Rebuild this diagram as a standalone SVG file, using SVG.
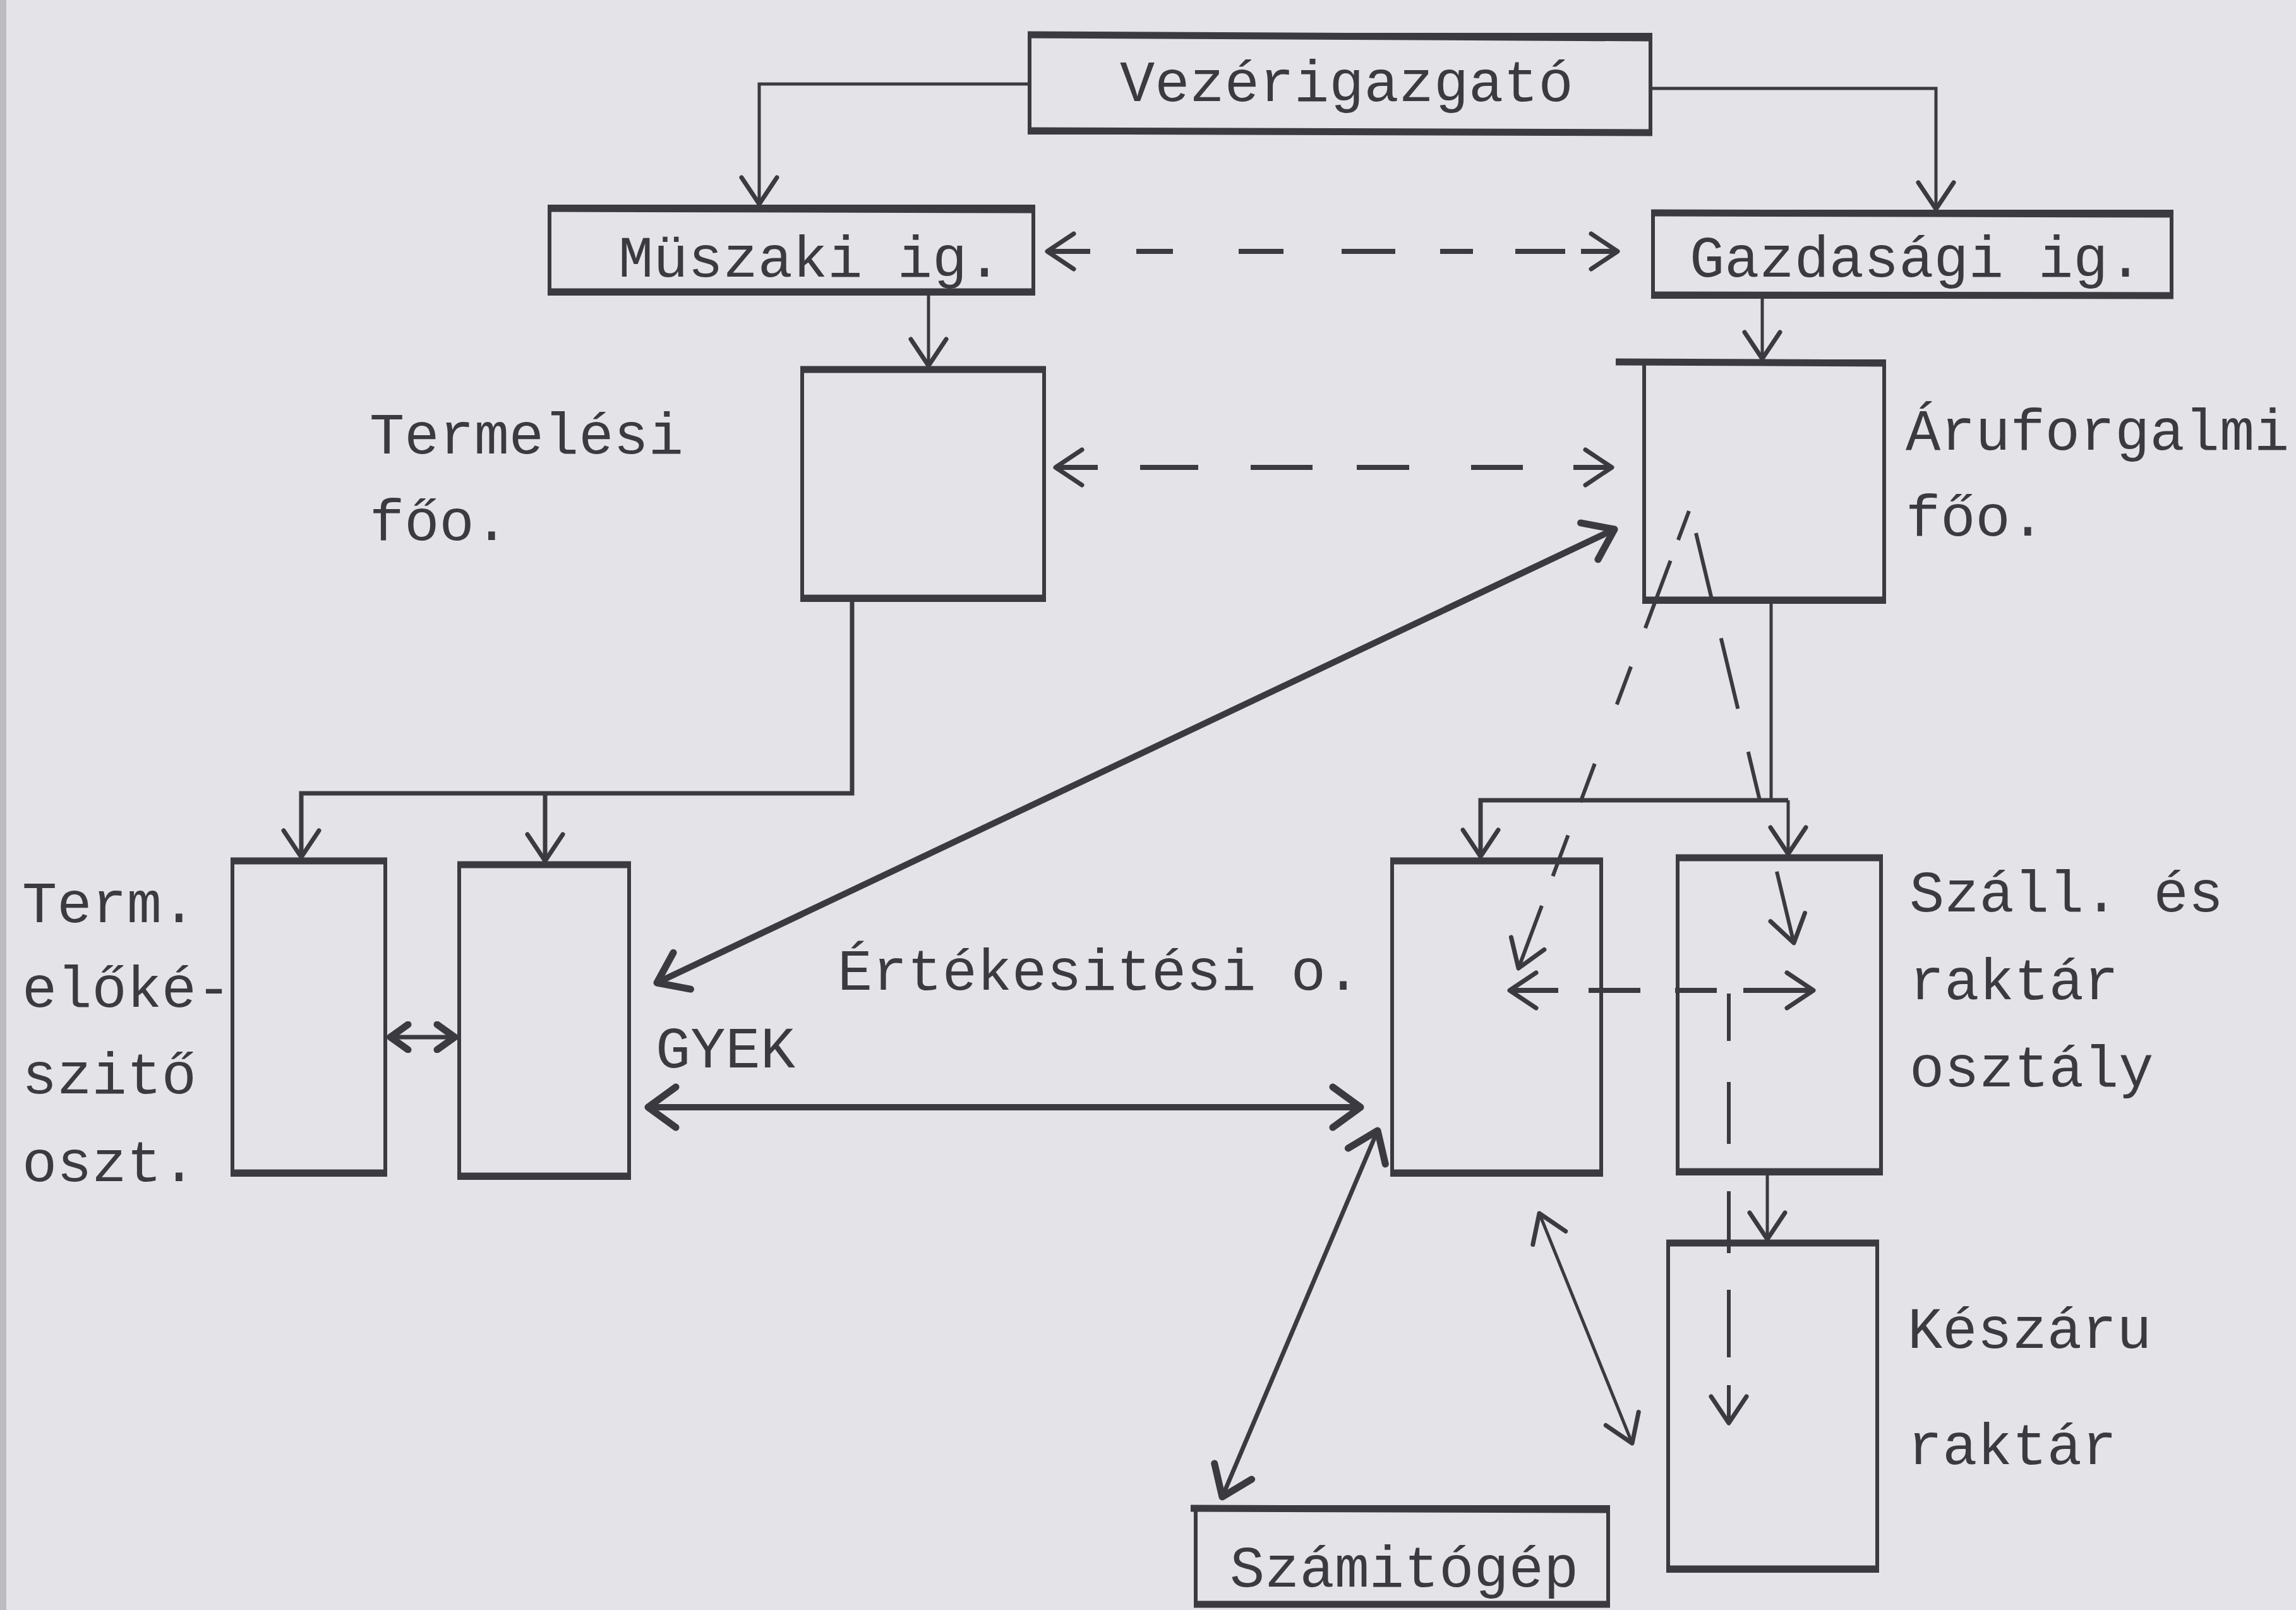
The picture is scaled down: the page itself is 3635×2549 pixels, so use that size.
<svg xmlns="http://www.w3.org/2000/svg" width="3635" height="2549" viewBox="0 0 3635 2549">
<style>
.bx{fill:none;stroke:#3b3a40;stroke-width:6}
.he{stroke:#3b3a40;stroke-width:11;stroke-linecap:butt}
.t{font-family:"Liberation Mono","DejaVu Sans Mono",monospace;font-size:92px;fill:#3b3a40}
.c{fill:none;stroke:#3b3a40;stroke-width:5}
.cb{fill:none;stroke:#3b3a40;stroke-width:10}
.cm{fill:none;stroke:#3b3a40;stroke-width:7}
.d{fill:none;stroke:#3b3a40;stroke-width:8}
.dd{fill:none;stroke:#3b3a40;stroke-width:6}
.mk{fill:none;stroke:#3b3a40;stroke-width:7;stroke-linecap:round;stroke-linejoin:round;stroke-dasharray:none}
.mkb{fill:none;stroke:#3b3a40;stroke-width:11;stroke-linecap:round;stroke-linejoin:round;stroke-dasharray:none}
</style>
<defs>
<marker id="a" viewBox="0 0 50 64" refX="46" refY="32" markerWidth="50" markerHeight="64" markerUnits="userSpaceOnUse" orient="auto-start-reverse"><path class="mk" d="M4,4 L46,32 L4,60"/></marker>
<marker id="ab" viewBox="0 0 56 76" refX="50" refY="38" markerWidth="56" markerHeight="76" markerUnits="userSpaceOnUse" orient="auto-start-reverse"><path class="mkb" d="M6,6 L50,38 L6,70"/></marker>
<marker id="as" viewBox="0 0 40 50" refX="36" refY="25" markerWidth="40" markerHeight="50" markerUnits="userSpaceOnUse" orient="auto-start-reverse"><path class="mkb" d="M6,5 L34,25 L6,45"/></marker>
</defs>
<rect x="0" y="0" width="3635" height="2549" fill="#e4e3e8"/>
<rect x="0" y="0" width="10" height="2549" fill="#bdbbc0"/>

<g id="connectors">
<path class="c" d="M1630,133 H1202 V323" marker-end="url(#a)"/>
<path class="c" d="M2613,140 H3065 V331" marker-end="url(#a)"/>
<path class="d" d="M1658,398 H2561" stroke-dasharray="68 73 58 104 71 92 85 71 52 67 79 25 58 100" marker-start="url(#a)" marker-end="url(#a)"/>
<path class="c" d="M1470,465 V579" marker-end="url(#a)"/>
<path class="c" d="M2790,473 V568" marker-end="url(#a)"/>
<path class="d" d="M1671,740 H2552" stroke-dasharray="67 67 92 83 98 70 83 98 82 80 61 100" marker-start="url(#a)" marker-end="url(#a)"/>
<path class="cm" d="M1349,950 V1256 H477 V1357" marker-end="url(#a)"/>
<path class="cm" d="M863,1256 V1363" marker-end="url(#a)"/>
<path class="cm" d="M616,1642 H722" marker-start="url(#as)" marker-end="url(#as)"/>
<path class="cb" d="M2556,838 L1040,1556" marker-start="url(#ab)" marker-end="url(#ab)"/>
<path class="cb" d="M1026,1753 H2154" marker-start="url(#ab)" marker-end="url(#ab)"/>
<path class="c" d="M2804,953 V1267"/>
<path class="cm" d="M2831,1267 H2344 V1356" marker-end="url(#a)"/>
<path class="c" d="M2831,1267 V1352" marker-end="url(#a)"/>
<path class="dd" d="M2674,809 L2404,1533" stroke-dasharray="49 35 114 65 64 100 65 56 69 50 105 200" marker-end="url(#a)"/>
<path class="dd" d="M2685,844 L2840,1493" stroke-dasharray="108 63 115 70 79 116 120 200" marker-end="url(#a)"/>
<path class="d" d="M2390,1568 H2871" stroke-dasharray="77 48 82 55 66 42 111 100" marker-start="url(#a)" marker-end="url(#a)"/>
<path class="dd" d="M2737,1573 V2253" stroke-dasharray="75 65 98 75 98 58 107 44 60 100" marker-end="url(#a)"/>
<path class="c" d="M2798,1858 V1962" marker-end="url(#a)"/>
<path class="cm" d="M2181,1790 L1935,2370" marker-start="url(#ab)" marker-end="url(#ab)"/>
<path class="c" d="M2437,1921 L2584,2285" marker-start="url(#a)" marker-end="url(#a)"/>
</g>

<g id="vezerigazgato">
<rect class="bx" x="1630" y="55" width="983" height="155"/>
<line class="he" x1="1627" y1="55" x2="2616" y2="60"/>
<line class="he" x1="1627" y1="207" x2="2616" y2="210"/>
<text class="t" x="1773" y="160">Vezérigazgató</text>
</g>
<g id="muszaki">
<rect class="bx" x="870" y="327" width="766" height="138"/>
<line class="he" x1="867" y1="330" x2="1639" y2="332"/>
<line class="he" x1="867" y1="462" x2="1639" y2="462"/>
<text class="t" x="979" y="438">Müszaki ig.</text>
</g>
<g id="gazdasagi">
<rect class="bx" x="2617" y="335" width="821" height="135"/>
<line class="he" x1="2614" y1="337" x2="3441" y2="339"/>
<line class="he" x1="2614" y1="467" x2="3441" y2="468"/>
<text class="t" x="2675" y="438">Gazdasági ig.</text>
</g>
<g id="termelesi">
<rect class="bx" x="1270" y="583" width="383" height="367"/>
<line class="he" x1="1267" y1="585" x2="1656" y2="585"/>
<line class="he" x1="1267" y1="947" x2="1656" y2="947"/>
<text class="t" x="585" y="718">Termelési</text>
<text class="t" x="585" y="855">főo.</text>
</g>
<g id="aruforgalmi">
<rect class="bx" x="2603" y="572" width="380" height="381"/>
<line class="he" x1="2558" y1="573" x2="2986" y2="575"/>
<line class="he" x1="2600" y1="950" x2="2986" y2="950"/>
<text class="t" x="3017" y="712">Áruforgalmi</text>
<text class="t" x="3017" y="848">főo.</text>
</g>
<g id="term-elokeszito">
<rect class="bx" x="368" y="1361" width="242" height="499"/>
<line class="he" x1="365" y1="1363" x2="613" y2="1363"/>
<line class="he" x1="365" y1="1857" x2="613" y2="1857"/>
<text class="t" x="35" y="1460">Term.</text>
<text class="t" x="35" y="1594">előké-</text>
<text class="t" x="35" y="1731">szitő</text>
<text class="t" x="35" y="1870">oszt.</text>
</g>
<g id="gyek">
<rect class="bx" x="727" y="1367" width="269" height="498"/>
<line class="he" x1="724" y1="1369" x2="999" y2="1369"/>
<line class="he" x1="724" y1="1862" x2="999" y2="1862"/>
<text class="t" x="1038" y="1690">GYEK</text>
</g>
<g id="ertekesitesi">
<rect class="bx" x="2204" y="1361" width="331" height="499"/>
<line class="he" x1="2201" y1="1363" x2="2538" y2="1363"/>
<line class="he" x1="2201" y1="1857" x2="2538" y2="1857"/>
<text class="t" x="1326" y="1567">Értékesitési o.</text>
</g>
<g id="szall">
<rect class="bx" x="2656" y="1356" width="322" height="502"/>
<line class="he" x1="2653" y1="1358" x2="2981" y2="1358"/>
<line class="he" x1="2653" y1="1855" x2="2981" y2="1855"/>
<text class="t" x="3023" y="1443">Száll. és</text>
<text class="t" x="3023" y="1582">raktár</text>
<text class="t" x="3023" y="1720">osztály</text>
</g>
<g id="keszaru">
<rect class="bx" x="2641" y="1966" width="331" height="521"/>
<line class="he" x1="2638" y1="1968" x2="2975" y2="1968"/>
<line class="he" x1="2638" y1="2484" x2="2975" y2="2484"/>
<text class="t" x="3020" y="2134">Készáru</text>
<text class="t" x="3020" y="2318">raktár</text>
</g>
<g id="szamitogep">
<rect class="bx" x="1893" y="2386" width="653" height="156"/>
<line class="he" x1="1885" y1="2388" x2="2549" y2="2390"/>
<line class="he" x1="1890" y1="2540" x2="2549" y2="2540"/>
<text class="t" x="1947" y="2512">Számitógép</text>
</g>
</svg>
